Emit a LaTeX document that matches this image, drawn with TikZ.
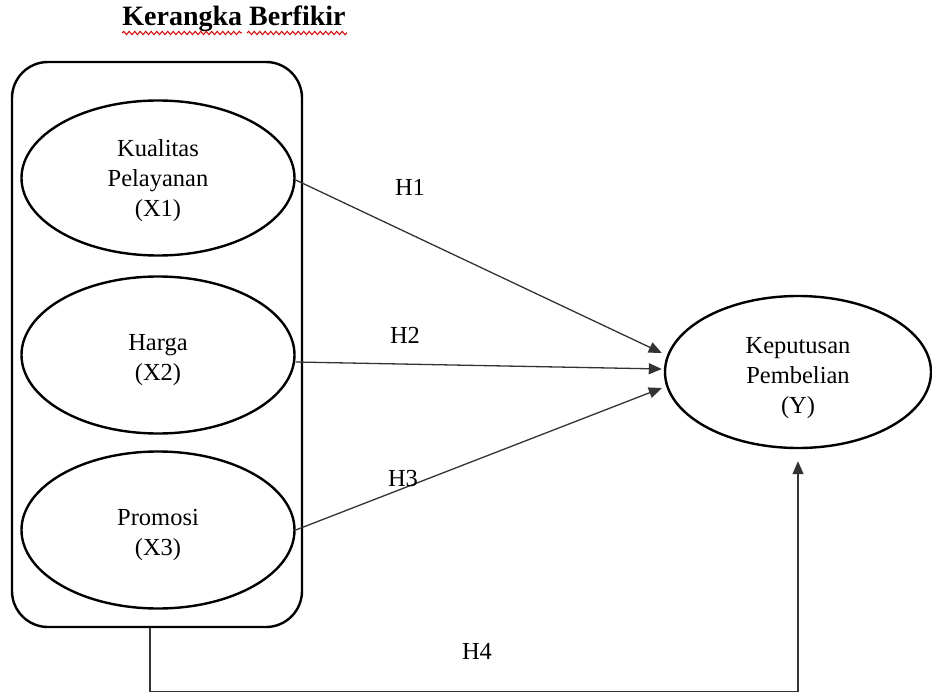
\documentclass[tikz,border=0pt]{standalone}
\usepackage{fontspec}
\setmainfont{Liberation Serif}
\usetikzlibrary{shapes.geometric,arrows.meta,calc,decorations.pathmorphing}
\begin{document}
\begin{tikzpicture}[x=1pt,y=-1pt,
  var/.style={ellipse,draw,line width=2.4pt,minimum width=273pt,minimum height=155pt,inner sep=0pt},
  vtext/.style={align=center,inner sep=0pt,font=\fontsize{24.5}{30}\selectfont},
  grp/.style={rectangle,draw,line width=2.4pt,rounded corners=36pt,minimum width=290pt,minimum height=565pt,inner sep=0pt},
  link/.style={line width=1.3pt,draw=black!80,-{Triangle[length=13pt,width=11pt]}},
  hlab/.style={font=\fontsize{24.5}{30}\selectfont,inner sep=0pt},
  wavy/.style={draw=red!85!black,line width=1pt,decorate,decoration={snake,amplitude=1.6pt,segment length=5.5pt}}]
\useasboundingbox (0,0) rectangle (932,693);
\node[font=\fontsize{28}{32}\selectfont\bfseries,inner sep=0pt] (title) at (234,19) {Kerangka Berfikir};
\draw[wavy] (122,33) -- (242,33);
\draw[wavy] (247,33) -- (347,33);
\node[grp] (box) at (157,344.5) {};
\node[var] (x1) at (158,178) {};
\node[vtext] (x1t) at (158,181) {Kualitas\\Pelayanan\\(X1)};
\node[var,minimum height=157pt] (x2) at (158,355) {};
\node[vtext] (x2t) at (158,360) {Harga\\(X2)};
\node[var,minimum height=157pt] (x3) at (158,530) {};
\node[vtext] (x3t) at (158,535) {Promosi\\(X3)};
\node[var,minimum width=266pt,minimum height=152pt] (y) at (798,372) {};
\node[vtext] (yt) at (798,378) {Keputusan\\Pembelian\\(Y)};
\draw[link] ([yshift=-2pt]x1.east) -- ([xshift=-2pt,yshift=19pt]y.west);
\draw[link] ([yshift=-7pt]x2.east) -- ([xshift=-2pt,yshift=3pt]y.west);
\draw[link] (x3.east) -- ([xshift=-2pt,yshift=-16pt]y.west);
\coordinate (corner) at ($(y.south)+(0,242)$);
\draw[link] ([xshift=-7pt]box.south) |- (corner) -- ([yshift=-12pt]y.south);
\node[hlab] (h1) at (410,187) {H1};
\node[hlab] (h2) at (405,335) {H2};
\node[hlab] (h3) at (403,479) {H3};
\node[hlab] (h4) at (477,651) {H4};
\end{tikzpicture}
\end{document}
